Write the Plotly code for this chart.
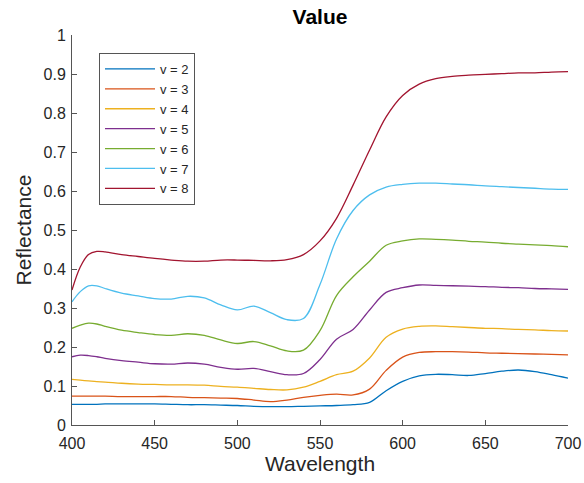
import plotly.graph_objects as go

wavelength = [400, 405, 410, 415, 420, 430, 440, 450, 460, 470, 480, 490, 500,
              510, 520, 530, 540, 550, 560, 570, 580, 590, 600, 610, 620, 630,
              640, 650, 660, 670, 680, 690, 700]

v2 = [0.053, 0.053, 0.053, 0.053, 0.054, 0.054, 0.054, 0.054, 0.053, 0.052, 0.052,
      0.051, 0.050, 0.048, 0.047, 0.047, 0.048, 0.049, 0.050, 0.052, 0.058, 0.088,
      0.112, 0.126, 0.130, 0.129, 0.127, 0.132, 0.138, 0.141, 0.137, 0.129, 0.120]
v3 = [0.074, 0.074, 0.074, 0.074, 0.074, 0.073, 0.073, 0.073, 0.073, 0.071, 0.070,
      0.069, 0.068, 0.064, 0.060, 0.064, 0.071, 0.076, 0.079, 0.077, 0.092, 0.140,
      0.174, 0.186, 0.188, 0.188, 0.187, 0.185, 0.184, 0.183, 0.182, 0.181, 0.180]
v4 = [0.117, 0.115, 0.113, 0.111, 0.110, 0.107, 0.105, 0.104, 0.103, 0.103, 0.102,
      0.099, 0.097, 0.094, 0.091, 0.090, 0.097, 0.112, 0.129, 0.138, 0.172, 0.225,
      0.246, 0.253, 0.254, 0.252, 0.250, 0.248, 0.247, 0.245, 0.244, 0.242, 0.241]
v5 = [0.175, 0.179, 0.178, 0.175, 0.171, 0.165, 0.161, 0.157, 0.156, 0.159, 0.156,
      0.148, 0.143, 0.145, 0.137, 0.129, 0.132, 0.168, 0.220, 0.245, 0.295, 0.340,
      0.352, 0.359, 0.358, 0.357, 0.356, 0.355, 0.353, 0.352, 0.350, 0.349, 0.348]
v6 = [0.248, 0.256, 0.261, 0.259, 0.253, 0.243, 0.237, 0.232, 0.230, 0.234, 0.230,
      0.218, 0.209, 0.214, 0.203, 0.190, 0.192, 0.242, 0.332, 0.380, 0.420, 0.461,
      0.472, 0.477, 0.476, 0.474, 0.471, 0.469, 0.466, 0.464, 0.462, 0.460, 0.457]
v7 = [0.316, 0.342, 0.357, 0.357, 0.350, 0.338, 0.331, 0.324, 0.323, 0.330, 0.326,
      0.308, 0.295, 0.305, 0.288, 0.270, 0.273, 0.360, 0.477, 0.550, 0.590, 0.610,
      0.617, 0.620, 0.620, 0.618, 0.616, 0.613, 0.611, 0.609, 0.607, 0.605, 0.604]
v8 = [0.346, 0.405, 0.437, 0.445, 0.444, 0.437, 0.432, 0.427, 0.423, 0.420, 0.420,
      0.423, 0.423, 0.422, 0.421, 0.424, 0.437, 0.472, 0.530, 0.615, 0.705, 0.790,
      0.845, 0.874, 0.888, 0.894, 0.897, 0.899, 0.901, 0.903, 0.903, 0.905, 0.906]

series_names = ["v = 2", "v = 3", "v = 4", "v = 5", "v = 6", "v = 7", "v = 8"]
series_values = [v2, v3, v4, v5, v6, v7, v8]
colors = ["#0072BD", "#D95319", "#EDB120", "#7E2F8E", "#77AC30", "#4DBEEE", "#A2142F"]

x_ticks = [400, 450, 500, 550, 600, 650, 700]
y_ticks = [0, 0.1, 0.2, 0.3, 0.4, 0.5, 0.6, 0.7, 0.8, 0.9, 1]
y_ticklabels = ["0", "0.1", "0.2", "0.3", "0.4", "0.5", "0.6", "0.7", "0.8", "0.9", "1"]

fig = go.Figure()
for name, vals, col in zip(series_names, series_values, colors):
    fig.add_trace(go.Scatter(x=wavelength, y=vals, name=name, mode="lines",
                             line=dict(color=col, width=1.3, shape="spline", smoothing=1.0)))

font_family = "Liberation Sans, Arial, Helvetica, sans-serif"
axis_col = "#555555"

fig.update_layout(
    width=584, height=483,
    margin=dict(l=72, r=16, t=35, b=58),
    paper_bgcolor="white", plot_bgcolor="white",
    font=dict(family=font_family, color="#262626"),
    title=dict(text="<b>Value</b>", x=0.5, xref="paper", xanchor="center",
               y=1 - 17 / 483, yref="container", yanchor="middle",
               font=dict(size=21, color="#000000", family=font_family)),
    showlegend=True,
    legend=dict(x=(99 - 72) / 496, y=(425 - 53) / 390, xanchor="left", yanchor="top",
                bgcolor="white", bordercolor="#555555", borderwidth=1,
                font=dict(size=13, color="#262626", family=font_family),
                tracegroupgap=0, itemwidth=50),
    xaxis=dict(range=[400, 700], tickvals=x_ticks, ticks="inside", ticklen=5,
               tickcolor=axis_col, showline=True, linecolor=axis_col, linewidth=1,
               showgrid=False, zeroline=False, mirror=False, automargin=False,
               ticklabelstandoff=4,
               tickfont=dict(size=16, color="#262626"),
               title=dict(text="Wavelength", font=dict(size=21, color="#262626"), standoff=4)),
    yaxis=dict(range=[0, 1], tickvals=y_ticks, ticktext=y_ticklabels, ticks="inside",
               ticklen=5, tickcolor=axis_col, showline=True, linecolor=axis_col,
               linewidth=1, showgrid=False, zeroline=False, mirror=False, automargin=False,
               ticklabelstandoff=2,
               tickfont=dict(size=16, color="#262626"),
               title=dict(text="Reflectance", font=dict(size=21, color="#262626"), standoff=6)),
)

# remove the browser's default 8px page margin so the figure fills the window
fig.write_html("out.html", config={"displayModeBar": False},
               post_script="document.body.style.margin='0';")
